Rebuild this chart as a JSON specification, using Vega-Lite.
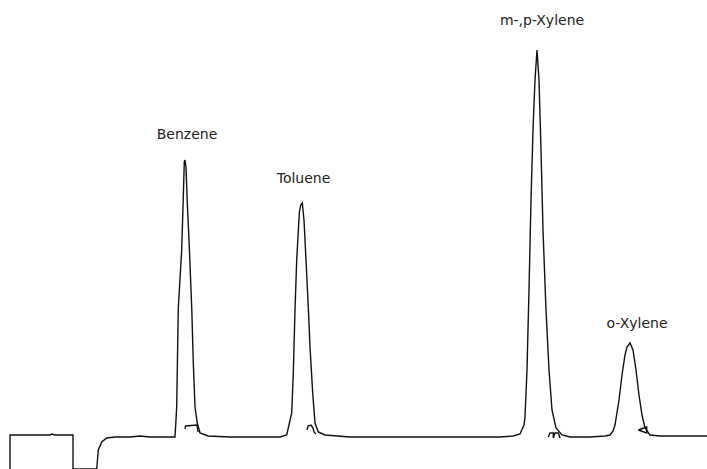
{
  "$schema": "https://vega.github.io/schema/vega-lite/v6.json",
  "width": 707,
  "height": 469,
  "autosize": {"type": "none"},
  "padding": 0,
  "background": "white",
  "config": {"view": {"stroke": null}},
  "layer": [
    {
      "data": {"values": [
        {"seg": "trace", "t": 10, "signal": -2},
        {"seg": "trace", "t": 10, "signal": 34},
        {"seg": "trace", "t": 50, "signal": 34},
        {"seg": "trace", "t": 52, "signal": 35},
        {"seg": "trace", "t": 55, "signal": 34},
        {"seg": "trace", "t": 73, "signal": 34},
        {"seg": "trace", "t": 73, "signal": 0},
        {"seg": "trace", "t": 80, "signal": 0},
        {"seg": "trace", "t": 96.7, "signal": 0},
        {"seg": "trace", "t": 98.3, "signal": 19},
        {"seg": "trace", "t": 101.7, "signal": 27},
        {"seg": "trace", "t": 106.7, "signal": 31},
        {"seg": "trace", "t": 115, "signal": 32},
        {"seg": "trace", "t": 130, "signal": 32},
        {"seg": "trace", "t": 140, "signal": 33},
        {"seg": "trace", "t": 150, "signal": 32},
        {"seg": "trace", "t": 165, "signal": 32},
        {"seg": "trace", "t": 175, "signal": 32},
        {"seg": "trace", "t": 176.7, "signal": 62},
        {"seg": "trace", "t": 178.3, "signal": 161},
        {"seg": "trace", "t": 181.7, "signal": 219},
        {"seg": "trace", "t": 183.3, "signal": 272},
        {"seg": "trace", "t": 184.3, "signal": 307},
        {"seg": "trace", "t": 185, "signal": 309},
        {"seg": "trace", "t": 186, "signal": 302},
        {"seg": "trace", "t": 187.3, "signal": 266},
        {"seg": "trace", "t": 189.3, "signal": 222},
        {"seg": "trace", "t": 191.7, "signal": 162},
        {"seg": "trace", "t": 193.3, "signal": 106},
        {"seg": "trace", "t": 195, "signal": 62},
        {"seg": "trace", "t": 197.3, "signal": 46},
        {"seg": "trace", "t": 200, "signal": 36},
        {"seg": "trace", "t": 208, "signal": 33},
        {"seg": "trace", "t": 230, "signal": 32},
        {"seg": "trace", "t": 260, "signal": 32},
        {"seg": "trace", "t": 280, "signal": 32},
        {"seg": "trace", "t": 286.7, "signal": 34},
        {"seg": "trace", "t": 291.7, "signal": 56},
        {"seg": "trace", "t": 293.3, "signal": 96},
        {"seg": "trace", "t": 295, "signal": 159},
        {"seg": "trace", "t": 296.7, "signal": 209},
        {"seg": "trace", "t": 299.3, "signal": 256},
        {"seg": "trace", "t": 300.7, "signal": 264},
        {"seg": "trace", "t": 302.3, "signal": 266},
        {"seg": "trace", "t": 304, "signal": 249},
        {"seg": "trace", "t": 306, "signal": 209},
        {"seg": "trace", "t": 308.3, "signal": 162},
        {"seg": "trace", "t": 310, "signal": 122},
        {"seg": "trace", "t": 312.7, "signal": 76},
        {"seg": "trace", "t": 315, "signal": 46},
        {"seg": "trace", "t": 318.3, "signal": 37},
        {"seg": "trace", "t": 325, "signal": 34},
        {"seg": "trace", "t": 350, "signal": 32},
        {"seg": "trace", "t": 400, "signal": 32},
        {"seg": "trace", "t": 450, "signal": 32},
        {"seg": "trace", "t": 500, "signal": 32},
        {"seg": "trace", "t": 513, "signal": 33},
        {"seg": "trace", "t": 520, "signal": 35},
        {"seg": "trace", "t": 524, "signal": 44},
        {"seg": "trace", "t": 525, "signal": 52},
        {"seg": "trace", "t": 527, "signal": 99},
        {"seg": "trace", "t": 529, "signal": 179},
        {"seg": "trace", "t": 531, "signal": 269},
        {"seg": "trace", "t": 533, "signal": 339},
        {"seg": "trace", "t": 535, "signal": 389},
        {"seg": "trace", "t": 537, "signal": 419},
        {"seg": "trace", "t": 539, "signal": 389},
        {"seg": "trace", "t": 541, "signal": 319},
        {"seg": "trace", "t": 543, "signal": 239},
        {"seg": "trace", "t": 546, "signal": 159},
        {"seg": "trace", "t": 549, "signal": 99},
        {"seg": "trace", "t": 552, "signal": 59},
        {"seg": "trace", "t": 556, "signal": 41},
        {"seg": "trace", "t": 562, "signal": 34},
        {"seg": "trace", "t": 570, "signal": 32},
        {"seg": "trace", "t": 590, "signal": 32},
        {"seg": "trace", "t": 605, "signal": 33},
        {"seg": "trace", "t": 610, "signal": 34},
        {"seg": "trace", "t": 613, "signal": 38},
        {"seg": "trace", "t": 615, "signal": 44},
        {"seg": "trace", "t": 619, "signal": 69},
        {"seg": "trace", "t": 622, "signal": 94},
        {"seg": "trace", "t": 625, "signal": 114},
        {"seg": "trace", "t": 627, "signal": 122},
        {"seg": "trace", "t": 630, "signal": 126},
        {"seg": "trace", "t": 633, "signal": 119},
        {"seg": "trace", "t": 636, "signal": 99},
        {"seg": "trace", "t": 639, "signal": 74},
        {"seg": "trace", "t": 642, "signal": 54},
        {"seg": "trace", "t": 645, "signal": 41},
        {"seg": "trace", "t": 650, "signal": 34},
        {"seg": "trace", "t": 660, "signal": 33},
        {"seg": "trace", "t": 707, "signal": 33},
        {"seg": "mark1", "t": 185, "signal": 40},
        {"seg": "mark1", "t": 185.5, "signal": 43},
        {"seg": "mark1", "t": 197, "signal": 44},
        {"seg": "mark1", "t": 198, "signal": 37},
        {"seg": "mark2", "t": 307, "signal": 39},
        {"seg": "mark2", "t": 308, "signal": 43},
        {"seg": "mark2", "t": 311, "signal": 44},
        {"seg": "mark2", "t": 313, "signal": 41},
        {"seg": "mark2", "t": 314, "signal": 37},
        {"seg": "mark2", "t": 316, "signal": 35},
        {"seg": "mark3", "t": 548.3, "signal": 32},
        {"seg": "mark3", "t": 550, "signal": 36},
        {"seg": "mark3", "t": 553.3, "signal": 36},
        {"seg": "mark3", "t": 553.3, "signal": 31},
        {"seg": "mark3", "t": 555, "signal": 36},
        {"seg": "mark3", "t": 558.3, "signal": 36},
        {"seg": "mark3", "t": 560, "signal": 31},
        {"seg": "mark4", "t": 638.3, "signal": 39},
        {"seg": "mark4", "t": 646.7, "signal": 42},
        {"seg": "mark4", "t": 646.7, "signal": 36},
        {"seg": "mark4", "t": 638.3, "signal": 39}
      ]},
      "mark": {"type": "line", "color": "#111111", "strokeWidth": 1.4, "clip": true},
      "encoding": {
        "x": {"field": "t", "type": "quantitative", "scale": {"domain": [0, 707], "nice": false, "zero": false}, "axis": null},
        "y": {"field": "signal", "type": "quantitative", "scale": {"domain": [0, 469], "nice": false, "zero": false}, "axis": null},
        "detail": {"field": "seg"},
        "order": {"value": null}
      }
    },
    {
      "data": {"values": [
        {"name": "Benzene", "t": 187, "signal": 330},
        {"name": "Toluene", "t": 303.5, "signal": 286},
        {"name": "m-,p-Xylene", "t": 542, "signal": 444},
        {"name": "o-Xylene", "t": 637, "signal": 141}
      ]},
      "mark": {"type": "text", "font": "DejaVu Sans", "fontSize": 14, "color": "#222222", "align": "center", "baseline": "alphabetic"},
      "encoding": {
        "x": {"field": "t", "type": "quantitative"},
        "y": {"field": "signal", "type": "quantitative"},
        "text": {"field": "name"}
      }
    }
  ]
}
